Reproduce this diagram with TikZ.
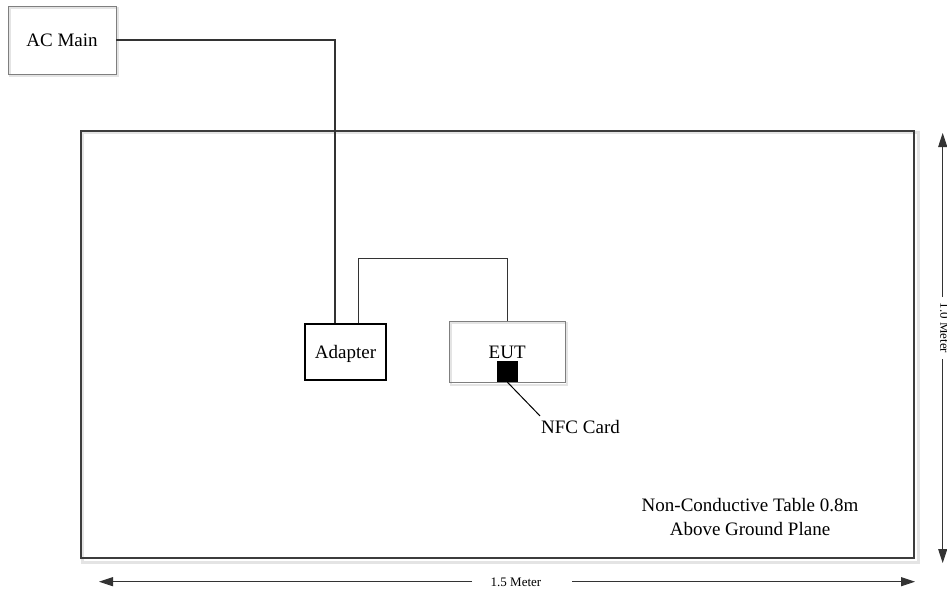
\documentclass[tikz,border=0pt]{standalone}
\usepackage{fontspec}
\setmainfont{Liberation Serif}
\usetikzlibrary{arrows.meta,calc,backgrounds}
\definecolor{tableborder}{HTML}{3C3C3C}
\definecolor{wire}{HTML}{333333}
\definecolor{boxgray}{HTML}{7F7F7F}
\definecolor{shadowgray}{HTML}{E4E4E4}
\begin{document}
\begin{tikzpicture}[x=1pt,y=-1pt,
  mainfont/.style={font=\fontsize{19}{23.3}\selectfont},
  dimfont/.style={font=\fontsize{13}{15}\selectfont},
  boxbase/.style={rectangle, inner sep=0pt, mainfont, text height=12.6pt, text depth=0pt, align=center},
  graybox/.style={boxbase, draw=boxgray, line width=0.8pt},
  blackbox/.style={boxbase, draw=black, line width=1.3pt},
  wirea/.style={draw=wire, line width=1.4pt},
  wireb/.style={draw=wire, line width=1pt},
  dimline/.style={draw=wire, line width=0.9pt, -{Triangle[length=14pt,width=9pt]}},
  shadowline/.style={draw=shadowgray, line width=#1},
]
\useasboundingbox (0,0) rectangle (947,591);

% table
\node[draw=tableborder, line width=2.6pt, minimum width=833pt, minimum height=427pt, inner sep=0pt] (table) at (497.5,344.5) {};

% boxes
\node[graybox, minimum width=108pt, minimum height=68pt] (acmain) at (62,40) {AC Main};
\node[blackbox, minimum width=81pt, minimum height=56pt] (adapter) at (345.5,352) {Adapter};
\node[graybox, minimum width=115.7pt, minimum height=61.7pt] (eut) at (507.2,351.9) {EUT};
\node[fill=black, inner sep=0pt, minimum size=21pt] (chip) at (507.4,371.5) {};
\node[mainfont, anchor=base west, inner xsep=1pt, inner ysep=4pt] (nfc) at (540,433.3) {NFC Card};
\node[mainfont, align=center, inner sep=0pt] (tabletext) at (750,516.9) {Non-Conductive Table 0.8m\\Above Ground Plane};

% shadows
\begin{scope}[on background layer]
  \draw[shadowline=3pt] ($(table.north west)+(3,3)$) rectangle ($(table.south east)+(3,3)$);
  \draw[shadowline=2pt] ($(acmain.north west)+(2,2)$) rectangle ($(acmain.south east)+(2,2)$);
  \draw[shadowline=2pt] ($(eut.north west)+(2,2)$) rectangle ($(eut.south east)+(2,2)$);
\end{scope}

% wires
\draw[wirea] (acmain.east) -| ($(adapter.north west)+(30.7,0)$);
\draw[wireb] ($(adapter.north west)+(54.3,0)$) -- ++(0,-65.3) -| (eut.north);
\draw[draw=black, line width=1pt] (chip.south) -- (nfc.north west);

% horizontal dimension
\node[dimfont, inner sep=0pt] (wlbl) at (516,582) {1.5 Meter};
\coordinate (wgapL) at (472,581.7);
\coordinate (wtipL) at (99,581.7);
\coordinate (wgapR) at (572,581.7);
\coordinate (wtipR) at (915,581.7);
\draw[dimline] (wgapL) -- (wtipL);
\draw[dimline] (wgapR) -- (wtipR);

% vertical dimension
\node[dimfont, inner sep=0pt, rotate=-90] (hlbl) at (944.5,328) {1.0 Meter};
\coordinate (hgapT) at (942.7,297);
\coordinate (htipT) at (942.7,133);
\coordinate (hgapB) at (942.7,359);
\coordinate (htipB) at (942.7,563);
\draw[dimline] (hgapT) -- (htipT);
\draw[dimline] (hgapB) -- (htipB);
\end{tikzpicture}
\end{document}
